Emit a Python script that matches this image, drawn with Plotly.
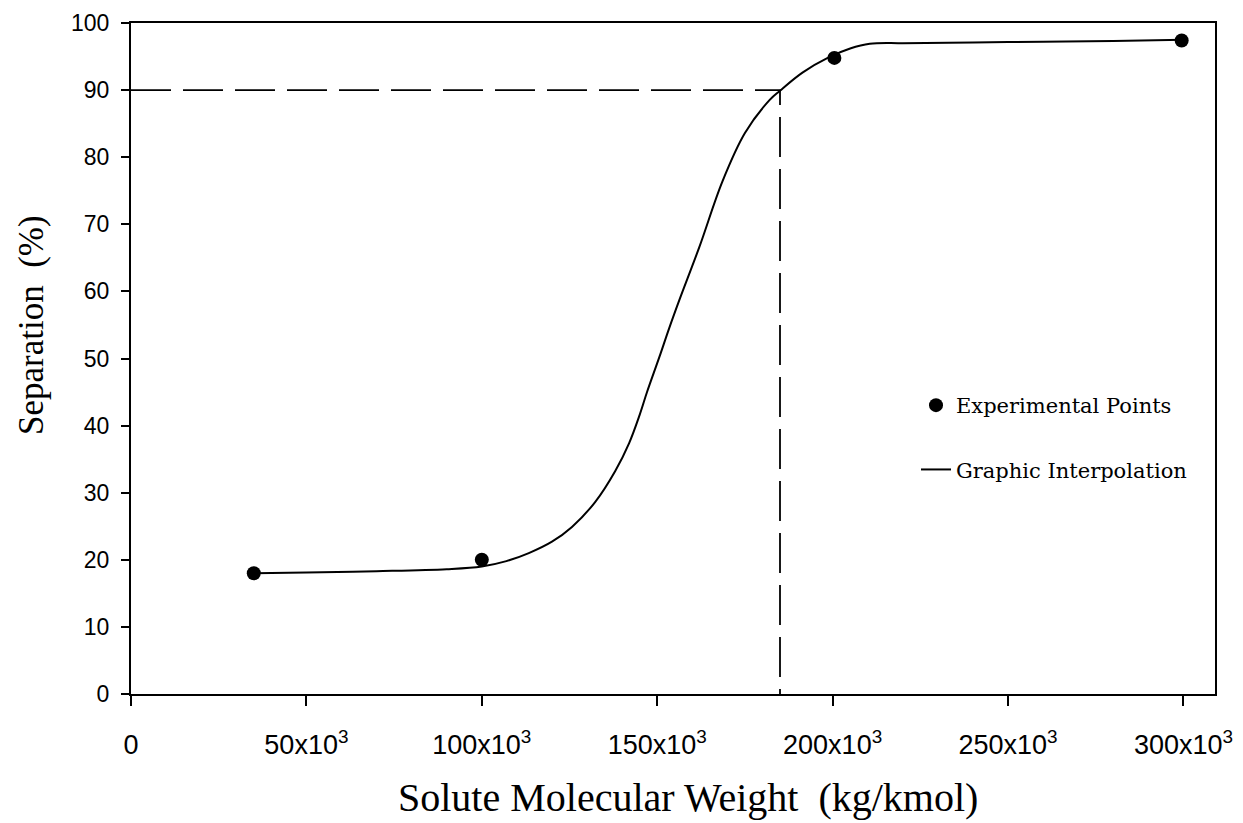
import plotly.graph_objects as go

# Experimental points
exp_mw = [35000, 100000, 200500, 299500]
exp_sep = [18.0, 20.0, 94.8, 97.4]

# Graphic interpolation curve
curve_mw = [35000, 50000, 70000, 90000, 100000, 107000, 113400, 120000, 125700, 132300,
            138000, 142000, 145000, 147100, 150600, 153400, 156300, 162000, 168600, 175000,
            182000, 185000, 191400, 199000, 205000, 210600, 220000, 240000, 260000, 280000, 300000]
curve_sep = [18.0, 18.1, 18.3, 18.6, 19.0, 19.8, 21.0, 22.7, 24.9, 28.6,
             33.2, 37.4, 41.6, 45.0, 50.2, 54.5, 58.7, 66.6, 76.4, 83.6,
             88.5, 89.9, 92.6, 94.9, 96.2, 96.9, 97.0, 97.1, 97.2, 97.3, 97.5]

# 90 % separation guide lines
guide_mw = [0, 185000, 185000]
guide_sep = [90, 90, 0]

x_tickvals = [0, 50000, 100000, 150000, 200000, 250000, 300000]
x_ticktext = ["0", "50x10<sup>3</sup>", "100x10<sup>3</sup>", "150x10<sup>3</sup>",
              "200x10<sup>3</sup>", "250x10<sup>3</sup>", "300x10<sup>3</sup>"]
y_tickvals = [0, 10, 20, 30, 40, 50, 60, 70, 80, 90, 100]

fig = go.Figure()

fig.add_trace(go.Scatter(
    x=guide_mw, y=guide_sep, mode="lines",
    line=dict(color="black", width=1.8, dash="40px,12px"),
    showlegend=False, hoverinfo="skip"))

fig.add_trace(go.Scatter(
    x=exp_mw, y=exp_sep, mode="markers", name="Experimental Points",
    marker=dict(color="black", size=14, symbol="circle"),
    legendgroup="a"))

fig.add_trace(go.Scatter(
    x=curve_mw, y=curve_sep, mode="lines", name="Graphic Interpolation",
    line=dict(color="black", width=2, shape="spline", smoothing=1.0),
    legendgroup="b"))

L, R, T, B = 131, 28, 23, 129
W, H = 1243, 823
PW = float(W - L - R)
PH = float(H - T - B)

fig.update_layout(
    width=W, height=H,
    paper_bgcolor="white", plot_bgcolor="white",
    margin=dict(l=L, r=R, t=T, b=B, autoexpand=False),
    font=dict(family="Liberation Sans, Arial, sans-serif", color="black"),
    legend=dict(
        x=(924 - 8 - L) / PW, y=(H - B - 385) / PH, xanchor="left", yanchor="top",
        bgcolor="rgba(0,0,0,0)", borderwidth=0,
        font=dict(family="DejaVu Serif, serif", size=21, color="black"),
        tracegroupgap=34, traceorder="grouped", itemwidth=30),
    annotations=[
        dict(text="Solute Molecular Weight  (kg/kmol)", xref="paper", yref="paper",
             x=(688 - L) / PW, y=-(798 - (H - B)) / PH, xanchor="center", yanchor="middle",
             showarrow=False,
             font=dict(family="Liberation Serif, Times New Roman, serif", size=40, color="black")),
        dict(text="Separation  (%)", xref="paper", yref="paper",
             x=-(L - 31) / PW, y=(H - B - 325) / PH, xanchor="center", yanchor="middle",
             textangle=-90, showarrow=False,
             font=dict(family="Liberation Serif, Times New Roman, serif", size=35, color="black")),
    ],
)

fig.update_xaxes(
    range=[0, 309000], tickvals=x_tickvals, ticktext=x_ticktext,
    showgrid=False, zeroline=False, automargin=False,
    showline=True, linecolor="black", linewidth=2, mirror=True,
    ticks="outside", ticklen=10, tickwidth=1.5, tickcolor="black",
    tickfont=dict(size=27, family="Liberation Sans, Arial, sans-serif", color="black"),
    ticklabelstandoff=16)

fig.update_yaxes(
    range=[0, 100], tickvals=y_tickvals,
    showgrid=False, zeroline=False, automargin=False,
    showline=True, linecolor="black", linewidth=2, mirror=True,
    ticks="outside", ticklen=8, tickwidth=1.5, tickcolor="black",
    tickfont=dict(size=23, family="Liberation Sans, Arial, sans-serif", color="black"),
    ticklabelstandoff=7)

fig.write_html("out.html", config={"displayModeBar": False},
               post_script="document.body.style.margin='0px';")
